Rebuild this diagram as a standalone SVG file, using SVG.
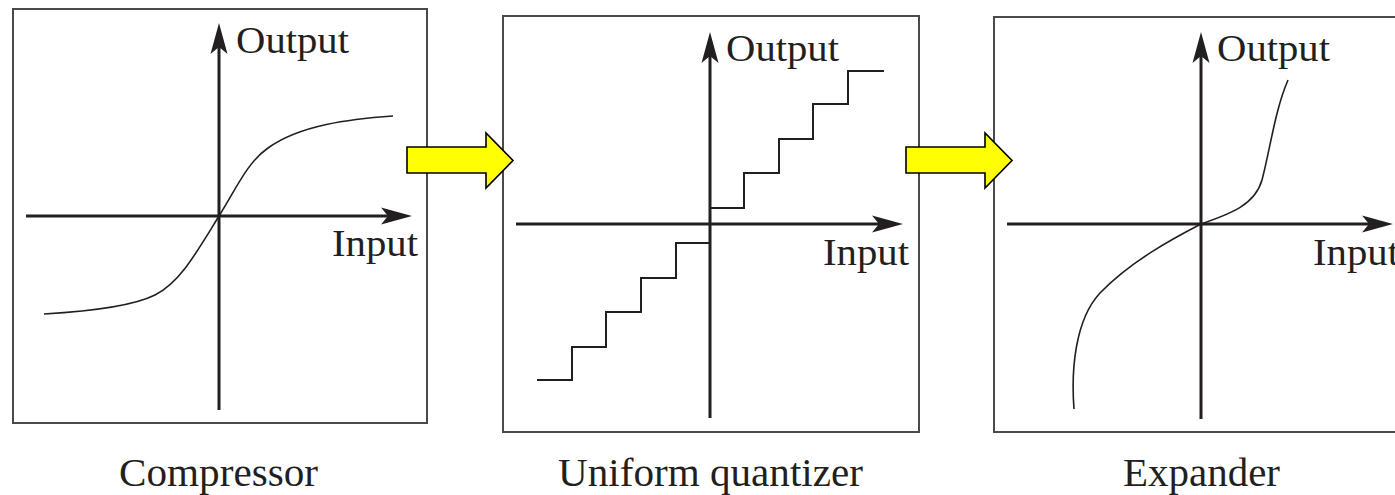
<svg xmlns="http://www.w3.org/2000/svg" width="1395" height="495" viewBox="0 0 1395 495">
  <style>
    .frame { fill: #ffffff; stroke: #4a4a4a; stroke-width: 2; }
    .axis { stroke: #231f20; stroke-width: 3; fill: none; }
    .curve { stroke: #231f20; stroke-width: 1.6; fill: none; }
    .stair { stroke: #231f20; stroke-width: 2; fill: none; }
    .lbl { font-family: "Liberation Serif", "Times New Roman", serif; font-size: 38px; fill: #231f20; }
    .cap { font-family: "Liberation Serif", "Times New Roman", serif; font-size: 41px; fill: #231f20; }
    .flow { fill: #ffff00; stroke: #000000; stroke-width: 1.6; stroke-linejoin: miter; }
  </style>
  <defs>
    <!-- notched axis arrowhead, tip at origin, pointing +x -->
    <path id="head" d="M0,0 L-31,-8.5 L-24,0 L-31,8.5 Z" fill="#231f20"/>
  </defs>

  <rect width="1395" height="495" fill="#ffffff"/>

  <!-- Compressor -->
  <g id="compressor">
    <rect class="frame" x="13" y="9" width="414" height="414"/>
    <line class="axis" x1="26" y1="216" x2="392" y2="216"/>
    <use href="#head" transform="translate(412,216)"/>
    <line class="axis" x1="219" y1="410" x2="219" y2="42"/>
    <use href="#head" transform="translate(219,23) rotate(-90)"/>
    <path class="curve" d="M44,314 C95,311 135,305 155,295 C180,282 195,255 219,216 C238,185 248,162 268,148 C300,125 350,119 393,116"/>
    <text class="lbl" x="236" y="53" textLength="113" lengthAdjust="spacingAndGlyphs">Output</text>
    <text class="lbl" x="332" y="256" textLength="86" lengthAdjust="spacingAndGlyphs">Input</text>
    <text class="cap" x="119" y="486" textLength="199" lengthAdjust="spacingAndGlyphs">Compressor</text>
  </g>

  <!-- Uniform quantizer -->
  <g id="quantizer">
    <rect class="frame" x="503" y="16" width="416" height="416"/>
    <line class="axis" x1="516" y1="224" x2="883" y2="224"/>
    <use href="#head" transform="translate(903,224)"/>
    <line class="axis" x1="710" y1="418" x2="710" y2="51"/>
    <use href="#head" transform="translate(710,32) rotate(-90)"/>
    <path class="stair" d="M710,208 H744 V173 H779 V139 H813 V104 H848 V71 H884"/>
    <path class="stair" d="M710,243 H676 V278 H641 V312 H606 V347 H572 V380 H537"/>
    <text class="lbl" x="726" y="61" textLength="113" lengthAdjust="spacingAndGlyphs">Output</text>
    <text class="lbl" x="823" y="265" textLength="86" lengthAdjust="spacingAndGlyphs">Input</text>
    <text class="cap" x="558" y="486" textLength="305" lengthAdjust="spacingAndGlyphs">Uniform quantizer</text>
  </g>

  <!-- Expander -->
  <g id="expander">
    <rect class="frame" x="994" y="17" width="420" height="415"/>
    <line class="axis" x1="1007" y1="224" x2="1373" y2="224"/>
    <use href="#head" transform="translate(1393,224)"/>
    <line class="axis" x1="1201" y1="419" x2="1201" y2="51"/>
    <use href="#head" transform="translate(1201,32) rotate(-90)"/>
    <path class="curve" d="M1074,409 C1071,370 1075,320 1100,293 C1130,262 1170,240 1201,224 C1230,214 1255,205 1262,180 C1270,150 1275,110 1288,80"/>
    <text class="lbl" x="1217" y="61" textLength="113" lengthAdjust="spacingAndGlyphs">Output</text>
    <text class="lbl" x="1313" y="265" textLength="86" lengthAdjust="spacingAndGlyphs">Input</text>
    <text class="cap" x="1123" y="486" textLength="157" lengthAdjust="spacingAndGlyphs">Expander</text>
  </g>

  <!-- block arrows between stages -->
  <g id="connectors">
    <path class="flow" d="M407,147 H486 V133 L513,160.5 L486,188 V173 H407 Z"/>
    <path class="flow" d="M906,147 H985 V133 L1012,160.5 L985,188 V173 H906 Z"/>
  </g>
</svg>
